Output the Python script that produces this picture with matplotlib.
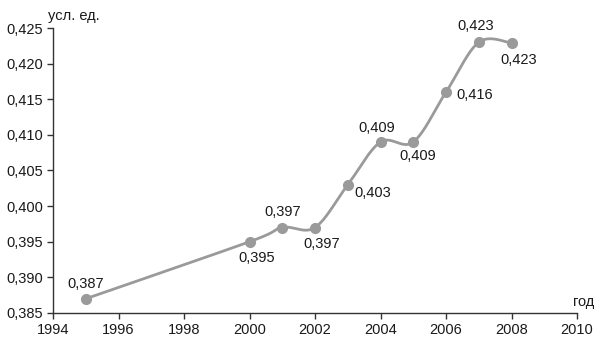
import numpy as np
import matplotlib
matplotlib.use("Agg")
import matplotlib.pyplot as plt

years = [1995, 2000, 2001, 2002, 2003, 2004, 2005, 2006, 2007, 2008]
values = [0.387, 0.395, 0.397, 0.397, 0.403, 0.409, 0.409, 0.416, 0.423, 0.4229]
value_labels = ["0,387", "0,395", "0,397", "0,397", "0,403", "0,409", "0,409", "0,416", "0,423", "0,423"]
x_ticks = [1994, 1996, 1998, 2000, 2002, 2004, 2006, 2008, 2010]
y_ticks = [0.385, 0.390, 0.395, 0.400, 0.405, 0.410, 0.415, 0.420, 0.425]
y_ticklabels = ["0,385", "0,390", "0,395", "0,400", "0,405", "0,410", "0,415", "0,420", "0,425"]

# label offsets in pixels (style)
offsets = [(0, 15), (7, -16), (0, 15), (7, -17), (25, -8), (-4, 14), (5, -14), (29, -3), (-3, 16), (7, -17)]

plt.rcParams['font.family'] = ['Liberation Sans', 'DejaVu Sans']
fig = plt.figure(figsize=(6.0, 3.42), dpi=100)
ax = fig.add_axes([53/600, 1-313/342, 524/600, 285/342])

xmin, xmax = 1994, 2010
ymin, ymax = 0.385, 0.425
ax.set_xlim(xmin, xmax)
ax.set_ylim(ymin, ymax)

# Excel-like smoothed line (Catmull-Rom bezier) computed in axes-normalized space
X = (np.array(years, float) - xmin) / (xmax - xmin) * 524
Y = (np.array(values, float) - ymin) / (ymax - ymin) * 285
P = np.column_stack([X, Y])
curve = []
n = len(P)
t = np.linspace(0, 1, 40)
for i in range(n - 1):
    p0 = P[i - 1] if i > 0 else P[i]
    p1 = P[i]
    p2 = P[i + 1]
    p3 = P[i + 2] if i + 2 < n else P[i + 1]
    c1 = p1 + (p2 - p0) / 6
    c2 = p2 - (p3 - p1) / 6
    seg = ((1 - t)[:, None] ** 3 * p1 + 3 * ((1 - t) ** 2 * t)[:, None] * c1
           + 3 * ((1 - t) * t ** 2)[:, None] * c2 + (t ** 3)[:, None] * p2)
    curve.append(seg)
curve = np.vstack(curve)
cx = curve[:, 0] / 524 * (xmax - xmin) + xmin
cy = curve[:, 1] / 285 * (ymax - ymin) + ymin

col = '#9a9a9a'
ax.plot(cx, cy, color=col, lw=2.0, solid_capstyle='round', clip_on=False)
ax.plot(years, values, 'o', color=col, ms=7, mec=col, clip_on=False, zorder=3)

for xv, yv, lab, off in zip(years, values, value_labels, offsets):
    ax.annotate(lab, (xv, yv), xytext=off, textcoords='offset pixels',
                ha='center', va='center', fontsize=10.5, color='#1a1a1a')

ax.set_xticks(x_ticks)
ax.set_xticklabels([str(v) for v in x_ticks])
ax.set_yticks(y_ticks)
ax.set_yticklabels(y_ticklabels)
for s in ['top', 'right']:
    ax.spines[s].set_visible(False)
for s in ['left', 'bottom']:
    ax.spines[s].set_color('#333333')
    ax.spines[s].set_linewidth(1.0)
ax.tick_params(axis='both', direction='out', length=4, width=1, color='#333333',
               labelsize=10.5, labelcolor='#1a1a1a', pad=3)

fig.text(48/600, 1-16/342, "усл. ед.", fontsize=10.5, color='#1a1a1a', ha='left', va='center')
fig.text(594/600, 1-302/342, "год", fontsize=10.5, color='#1a1a1a', ha='right', va='center')

fig.savefig("out.png", dpi=100)
